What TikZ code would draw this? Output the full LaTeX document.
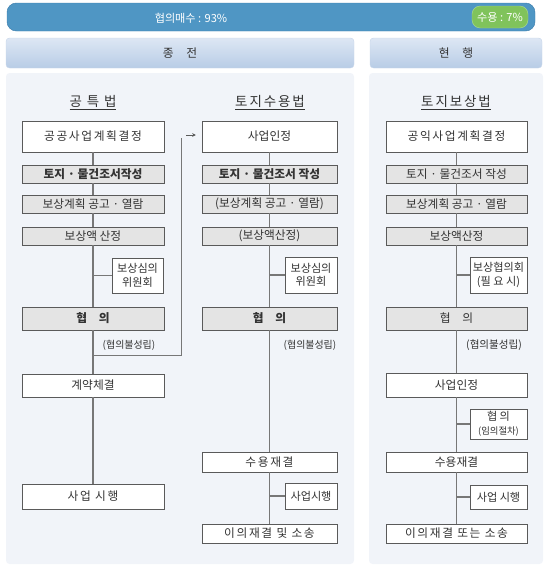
\documentclass[tikz,border=0pt]{standalone}
\usepackage{fontspec}
\setmainfont{Noto Sans CJK KR}
\newfontfamily\krwide[LetterSpace=14]{Noto Sans CJK KR}
\usetikzlibrary{arrows.meta}

\definecolor{barblue}{HTML}{4F96C4}
\definecolor{barline}{HTML}{3F80AE}
\definecolor{pillgreen}{HTML}{80C35B}
\definecolor{pillline}{HTML}{A9DA8E}
\definecolor{headtop}{HTML}{DDE7F4}
\definecolor{headbot}{HTML}{B8CCE6}
\definecolor{headline}{HTML}{C9D7EA}
\definecolor{panelbg}{HTML}{F1F4F9}
\definecolor{boxgray}{HTML}{E4E4E4}
\definecolor{ink}{HTML}{333333}
\definecolor{wire}{HTML}{777777}
\definecolor{edge}{HTML}{5A5A5A}

\begin{document}
\begin{tikzpicture}[
  x=0.03cm, y=-0.03cm,
  panel/.style     = {fill=panelbg, rounded corners=3pt},
  head/.style      = {draw=headline, rounded corners=3pt,
                      top color=headtop, bottom color=headbot},
  headtxt/.style   = {font=\fontsize{10}{11}\selectfont, text=ink},
  title/.style     = {font=\fontsize{11.5}{13}\selectfont\krwide, text=ink},
  proc/.style      = {draw=edge, fill=white, text=ink, inner sep=1pt,
                      font=\fontsize{10}{11}\selectfont},
  procg/.style     = {proc, fill=boxgray},   % the grey steps
  colG/.style      = {minimum width=4.26cm},
  colS/.style      = {minimum width=4.05cm},
  colB/.style      = {minimum width=4.23cm},
  side/.style      = {proc, align=center, font=\fontsize{9.5}{11.5}\selectfont},
  note/.style      = {text=ink, inner sep=1pt, font=\fontsize{8.5}{10}\selectfont},
  trunk/.style     = {draw=wire, line width=0.9pt},
  jump/.style      = {draw=edge, semithick, -{Stealth[length=3pt,width=3pt]}},
]
  \useasboundingbox (0,0) rectangle (550,580);

  % top bar: share of the two ways
  \fill[barblue, draw=barline, rounded corners=8pt] (7,3) rectangle (535,31);
  \fill[pillgreen, draw=pillline, rounded corners=7pt] (472,6) rectangle (528,28);
  \node[text=white, font=\fontsize{9.5}{10}\selectfont] (share) at (191,18) {협의매수 : 93\%};
  \node[text=white, font=\fontsize{9.5}{10}\selectfont] (force) at (500,17) {수용 : 7\%};

  % headers and panels
  \path[head] (6,38) rectangle (354,68);
  \path[head] (370,38) rectangle (542,68);
  \node[headtxt] (old) at (180,53) {종\hspace{1.1em}전};
  \node[headtxt] (new) at (456,53) {현\hspace{1.1em}행};
  \path[panel] (6,73) rectangle (354,564);
  \path[panel] (369,73) rectangle (543,564);

  % 공특법
  \node[title] (g_law) at (93,103) {\underline{공 특 법}};
  \node[proc, colG, minimum height=0.93cm] (g_dec) at (93,136.5) {\krwide 공공사업계획결정};
  \node[procg, colG, minimum height=0.54cm, font=\fontsize{10}{11}\selectfont\bfseries] (g_sur) at (93,174) {토지 · 물건조서작성};
  \node[procg, colG, minimum height=0.54cm] (g_not) at (93,204) {보상계획 공고 · 열람};
  \node[procg, colG, minimum height=0.54cm] (g_amt) at (93,236) {보상액 산정};
  \node[side, minimum width=1.53cm, minimum height=1.05cm] (g_brd) at (137.5,275.5) {보상심의\\위원회};
  \node[procg, colG, minimum height=0.69cm, font=\fontsize{10}{11}\selectfont\bfseries] (g_talk) at (93,318.5) {협\quad 의};
  \node[note] (g_fail) at (129,345) {(협의불성립)};
  \node[proc, colG, minimum height=0.69cm] (g_con) at (93,385.5) {계약체결};
  \node[proc, colG, minimum height=0.75cm] (g_run) at (93,496.5) {\krwide 사업 시행};

  \draw[trunk] (g_dec) -- (g_sur) -- (g_not) -- (g_amt) -- (g_talk) -- (g_con) -- (g_run);
  \draw[trunk] (g_brd.west) -- (g_brd.west -| g_amt.south);

  % failed talks go over to the 토지수용법 line
  \coordinate (g_turn) at (181,355);
  \coordinate (g_up) at (181,138);
  \coordinate (g_tip) at (186,135);
  \draw[trunk, line width=0.7pt] (g_talk.south |- g_turn) -- (g_turn) -- (g_up);

  % 토지수용법
  \node[title] (s_law) at (270,103) {\underline{토지수용법}};
  \node[proc, colS, minimum height=0.93cm] (s_dec) at (269.5,136.5) {사업인정};
  \node[procg, colS, minimum height=0.54cm, font=\fontsize{10}{11}\selectfont\bfseries] (s_sur) at (269.5,174) {토지 · 물건조서 작성};
  \node[procg, colS, minimum height=0.54cm] (s_not) at (269.5,204) {(보상계획 공고 · 열람)};
  \node[procg, colS, minimum height=0.54cm] (s_amt) at (269.5,236) {(보상액산정)};
  \node[side, minimum width=1.56cm, minimum height=1.08cm] (s_brd) at (311,275) {보상심의\\위원회};
  \node[procg, colS, minimum height=0.69cm, font=\fontsize{10}{11}\selectfont\bfseries] (s_talk) at (269.5,318.5) {협\quad 의};
  \node[note] (s_fail) at (310,345) {(협의불성립)};
  \node[proc, colS, minimum height=0.6cm] (s_rul) at (269.5,462) {\krwide 수용재결};
  \node[side, minimum width=1.56cm, minimum height=0.78cm] (s_run) at (311,496) {사업시행};
  \node[proc, colS, minimum height=0.57cm] (s_sue) at (269.5,533.5) {\krwide 이의재결 및 소송};

  \draw[jump, shorten >=1.8mm] (g_tip) -- (g_tip -| s_dec.west);
  \draw[trunk] (s_dec) -- (s_sur) -- (s_not) -- (s_amt) -- (s_talk) -- (s_rul) -- (s_sue);
  \draw[trunk] (s_brd.west) -- (s_brd.west -| s_amt.south);
  \draw[trunk] (s_run.west) -- (s_run.west -| s_rul.south);

  % 토지보상법
  \node[title] (b_law) at (456,103) {\underline{토지보상법}};
  \node[proc, colB, minimum height=0.93cm] (b_dec) at (456.5,136.5) {\krwide 공익사업계획결정};
  \node[procg, colB, minimum height=0.54cm] (b_sur) at (456.5,174) {토지 · 물건조서 작성};
  \node[procg, colB, minimum height=0.54cm] (b_not) at (456.5,204) {보상계획 공고 · 열람};
  \node[procg, colB, minimum height=0.54cm] (b_amt) at (456.5,236) {보상액산정};
  \node[side, minimum width=1.71cm, minimum height=1.08cm] (b_brd) at (498.5,275) {보상협의회\\(필 요 시)};
  \node[procg, colB, minimum height=0.69cm] (b_talk) at (456.5,318.5) {협\quad 의};
  \node[note, font=\fontsize{9}{10}\selectfont] (b_fail) at (494,345) {(협의불성립)};
  \node[proc, colB, minimum height=0.72cm] (b_ok) at (456.5,385) {사업인정};
  \node[side, minimum width=1.71cm, minimum height=0.9cm] (b_vol) at (498.5,424) {협 의\\{\fontsize{8}{9}\selectfont (임의절차)}};
  \node[proc, colB, minimum height=0.6cm] (b_rul) at (456.5,462) {수용재결};
  \node[side, minimum width=1.71cm, minimum height=0.72cm] (b_run) at (498.5,497) {사업 시행};
  \node[proc, colB, minimum height=0.57cm] (b_sue) at (456.5,533.5) {\krwide 이의재결 또는 소송};

  \draw[trunk] (b_dec) -- (b_sur) -- (b_not) -- (b_amt) -- (b_talk) -- (b_ok) -- (b_rul) -- (b_sue);
  \draw[trunk] (b_brd.west) -- (b_brd.west -| b_amt.south);
  \draw[trunk] (b_vol.west) -- (b_vol.west -| b_ok.south);
  \draw[trunk] (b_run.west) -- (b_run.west -| b_rul.south);
\end{tikzpicture}
\end{document}
